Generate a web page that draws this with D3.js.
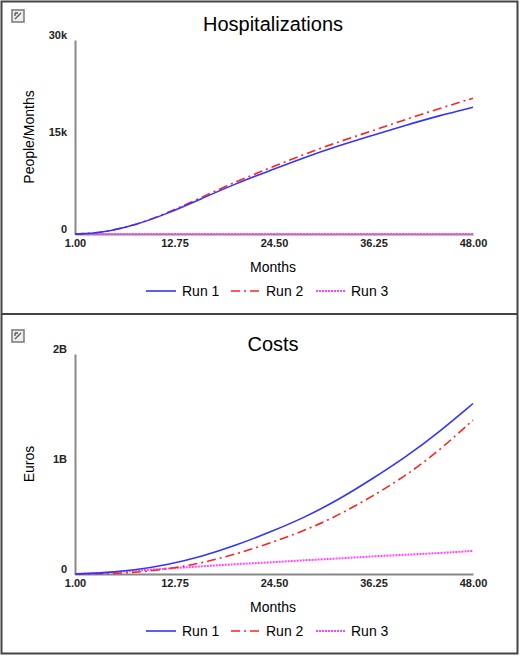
<!DOCTYPE html>
<html><head><meta charset="utf-8">
<script src="https://cdn.jsdelivr.net/npm/d3@7"></script>
<style>body{margin:0;background:#fff;font-family:Arial,"Liberation Sans",sans-serif}</style>
</head><body><svg id="c" width="520" height="656"></svg>
<script>
const months = [1,4,8,12,16,20,24,28,32,36,40,44,48];
const xTicks = [1,12.75,24.5,36.25,48];
const hospRun1 = [0,150,1300,3200,5500,7800,9800,11800,13600,15200,16800,18300,19600];
const hospRun2 = [0,150,1300,3300,5700,8100,10200,12300,14200,15900,17700,19400,21000];
const hospRun3 = [0,0,0,0,0,0,0,0,0,0,0,0,0];
const hospTicks = [0,15000,30000], hospTickLabels = ["0","15k","30k"];
const costRun1 = [0,0.006,0.035,0.085,0.16,0.26,0.38,0.51,0.67,0.86,1.06,1.29,1.55].map(v=>v*1e9);
const costRun2 = [0,0.002,0.012,0.045,0.1,0.18,0.28,0.39,0.53,0.70,0.89,1.12,1.40].map(v=>v*1e9);
const costRun3 = [0,0.01,0.03,0.05,0.07,0.09,0.105,0.125,0.14,0.16,0.175,0.19,0.21].map(v=>v*1e9);
const costTicks = [0,1e9,2e9], costTickLabels = ["0","1B","2B"];
const runNames = ["Run 1","Run 2","Run 3"];
const runColors = ["#3333ff","#ff2222","#ff44ff"];
const runDash = [null,"9,4,2,4","2,1"];

const svg = d3.select("#c");
svg.append("rect").attr("x",1.5).attr("y",1.5).attr("width",516).attr("height",652).attr("fill","none").attr("stroke","#444").attr("stroke-width",2);
svg.append("line").attr("x1",1).attr("x2",518).attr("y1",314).attr("y2",314).attr("stroke","#444").attr("stroke-width",2);

function panel(top, title, ylab, series, max, ticks, tickLabels){
  const g = svg.append("g").attr("transform",`translate(0,${top})`);
  g.append("rect").attr("x",12).attr("y",10).attr("width",12).attr("height",12).attr("fill","#eee").attr("stroke","#777").attr("stroke-width",1.5);
  g.append("path").attr("d","M15,19 L21,13 M15,13 L15,16 M15,13 L18,13").attr("stroke","#555").attr("stroke-width",1.3).attr("fill","none");
  g.append("text").attr("x",273).attr("y",31).attr("text-anchor","middle").attr("font-size",20).text(title);
  const x = d3.scaleLinear().domain([1,48]).range([75,473]);
  const y = d3.scaleLinear().domain([0,max]).range([top===0?234:254, top===0?40:34]);
  const y0 = y(0);
  g.append("g").attr("transform",`translate(0,${y0})`).call(d3.axisBottom(x).tickValues(xTicks).tickSize(0).tickFormat(d3.format(".2f")))
    .call(a=>{a.select(".domain").attr("stroke","#888").attr("stroke-width",2);a.selectAll("text").attr("font-size",11).attr("font-weight","bold").attr("fill","#222").attr("dy","0.9em");});
  g.append("g").attr("transform","translate(75,0)").call(d3.axisLeft(y).tickValues(ticks).tickSize(0).tickFormat((d,i)=>tickLabels[i]))
    .call(a=>{a.select(".domain").attr("stroke","#888").attr("stroke-width",2);a.selectAll("text").attr("font-size",11).attr("font-weight","bold").attr("fill","#222").attr("x",-8).attr("dy","-0.1em");});
  g.append("text").attr("x",273).attr("y",y0+38).attr("text-anchor","middle").attr("font-size",14).text("Months");
  g.append("text").attr("transform",`translate(34,${(y0+y(max))/2}) rotate(-90)`).attr("text-anchor","middle").attr("font-size",14).text(ylab);
  const line = d3.line().x((d,i)=>x(months[i])).y(d=>y(d)).curve(d3.curveBasis);
  [2,1,0].forEach(k=>{
    g.append("path").attr("d",line(series[k])).attr("fill","none").attr("stroke",runColors[k]).attr("stroke-width",k==2?2:1.6).attr("stroke-dasharray",runDash[k]);
  });
  const ly = y0+57, lx=[146,231,316], tx=[182,266,351];
  runNames.forEach((n,k)=>{
    g.append("line").attr("x1",lx[k]).attr("x2",lx[k]+30).attr("y1",ly).attr("y2",ly).attr("stroke",runColors[k]).attr("stroke-width",k==2?2:1.6).attr("stroke-dasharray",runDash[k]);
    g.append("text").attr("x",tx[k]).attr("y",ly+5).attr("font-size",14).text(n);
  });
}
panel(0,"Hospitalizations","People/Months",[hospRun1,hospRun2,hospRun3],30000,hospTicks,hospTickLabels);
panel(320,"Costs","Euros",[costRun1,costRun2,costRun3],2e9,costTicks,costTickLabels);
</script></body></html>
